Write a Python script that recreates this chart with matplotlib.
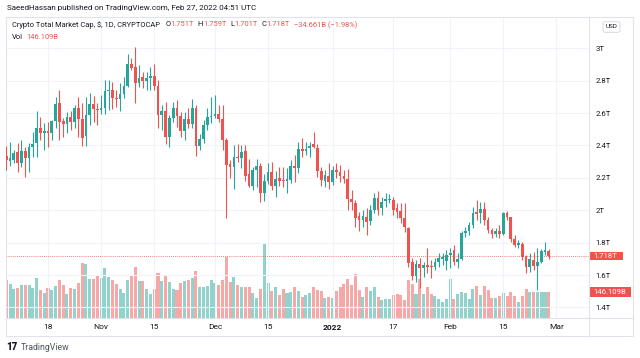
import numpy as np
import pandas as pd
import matplotlib
matplotlib.use("Agg")
import matplotlib.pyplot as plt
import matplotlib.dates as mdates
import matplotlib.transforms as mtransforms
from matplotlib.patches import Rectangle, FancyBboxPatch
from matplotlib.lines import Line2D

plt.rcParams['font.family'] = ['Roboto', 'DejaVu Sans']

# daily candles, values in trillions USD
dates = pd.date_range("2021-10-07", "2022-02-27", freq="D")
opens = [2.335, 2.306, 2.310, 2.362, 2.294, 2.366, 2.325, 2.389, 2.413, 2.510,
         2.479, 2.492, 2.479, 2.551, 2.660, 2.551, 2.531, 2.578, 2.547, 2.634,
         2.564, 2.461, 2.586, 2.656, 2.625, 2.619, 2.634, 2.736, 2.743, 2.695,
         2.687, 2.716, 2.769, 2.901, 2.887, 2.788, 2.825, 2.798, 2.815, 2.829,
         2.767, 2.588, 2.613, 2.455, 2.568, 2.634, 2.582, 2.492, 2.564, 2.531,
         2.634, 2.397, 2.440, 2.527, 2.574, 2.582, 2.592, 2.564, 2.434, 2.286,
         2.265, 2.331, 2.323, 2.366, 2.222, 2.152, 2.249, 2.273, 2.109, 2.181,
         2.238, 2.150, 2.197, 2.190, 2.180, 2.187, 2.273, 2.263, 2.378, 2.368,
         2.383, 2.407, 2.383, 2.245, 2.183, 2.212, 2.177, 2.249, 2.238, 2.212,
         2.193, 2.072, 2.045, 1.965, 1.940, 1.961, 1.934, 2.002, 2.074, 2.016,
         2.057, 2.066, 2.066, 2.012, 1.995, 1.954, 1.889, 1.683, 1.595, 1.669,
         1.642, 1.662, 1.656, 1.648, 1.679, 1.700, 1.687, 1.722, 1.755, 1.681,
         1.701, 1.860, 1.870, 1.911, 1.987, 1.981, 2.008, 1.940, 1.878, 1.854,
         1.872, 1.854, 1.985, 1.957, 1.823, 1.786, 1.792, 1.714, 1.648, 1.693,
         1.656, 1.683, 1.745, 1.751]
highs = [2.397, 2.424, 2.372, 2.417, 2.434, 2.393, 2.413, 2.485, 2.613, 2.574,
         2.541, 2.547, 2.557, 2.701, 2.743, 2.568, 2.609, 2.613, 2.648, 2.701,
         2.660, 2.701, 2.722, 2.706, 2.660, 2.712, 2.804, 2.804, 2.794, 2.743,
         2.784, 2.825, 2.963, 2.938, 3.010, 2.897, 2.856, 2.856, 2.887, 2.901,
         2.804, 2.650, 2.670, 2.588, 2.670, 2.681, 2.609, 2.609, 2.630, 2.685,
         2.650, 2.469, 2.557, 2.630, 2.701, 2.712, 2.647, 2.647, 2.444, 2.310,
         2.403, 2.409, 2.403, 2.403, 2.315, 2.269, 2.317, 2.290, 2.222, 2.290,
         2.296, 2.245, 2.269, 2.269, 2.259, 2.311, 2.341, 2.424, 2.444, 2.424,
         2.424, 2.485, 2.407, 2.269, 2.249, 2.290, 2.273, 2.290, 2.280, 2.249,
         2.255, 2.125, 2.064, 1.991, 2.002, 2.012, 2.033, 2.105, 2.121, 2.084,
         2.105, 2.098, 2.084, 2.043, 2.043, 2.043, 1.899, 1.704, 1.693, 1.704,
         1.683, 1.765, 1.693, 1.704, 1.734, 1.739, 1.755, 1.765, 1.786, 1.734,
         1.872, 1.899, 1.930, 2.022, 2.064, 2.053, 2.053, 1.961, 1.889, 1.889,
         1.909, 1.991, 1.995, 1.961, 1.848, 1.817, 1.806, 1.724, 1.734, 1.745,
         1.765, 1.759, 1.806, 1.759]
lows = [2.249, 2.273, 2.290, 2.239, 2.269, 2.208, 2.239, 2.331, 2.327, 2.434,
        2.372, 2.389, 2.434, 2.506, 2.434, 2.455, 2.475, 2.496, 2.506, 2.455,
        2.397, 2.397, 2.525, 2.547, 2.527, 2.594, 2.594, 2.619, 2.623, 2.640,
        2.615, 2.691, 2.763, 2.866, 2.660, 2.763, 2.753, 2.743, 2.743, 2.743,
        2.506, 2.496, 2.409, 2.389, 2.547, 2.512, 2.455, 2.434, 2.506, 2.506,
        2.335, 2.372, 2.413, 2.496, 2.537, 2.568, 2.547, 2.372, 1.955, 2.197,
        2.129, 2.300, 2.259, 2.183, 2.142, 2.125, 2.146, 2.053, 2.057, 2.162,
        2.125, 2.085, 2.150, 2.146, 2.109, 2.166, 2.177, 2.232, 2.331, 2.341,
        2.331, 2.383, 2.208, 2.150, 2.142, 2.129, 2.156, 2.197, 2.177, 2.166,
        2.002, 2.002, 1.899, 1.874, 1.899, 1.848, 1.909, 1.981, 1.971, 1.971,
        2.022, 2.043, 1.971, 1.950, 1.920, 1.868, 1.652, 1.570, 1.560, 1.518,
        1.591, 1.611, 1.580, 1.632, 1.652, 1.662, 1.632, 1.642, 1.662, 1.642,
        1.693, 1.838, 1.848, 1.889, 1.940, 1.920, 1.909, 1.858, 1.830, 1.838,
        1.827, 1.848, 1.940, 1.806, 1.776, 1.765, 1.693, 1.611, 1.621, 1.632,
        1.508, 1.673, 1.724, 1.701]
closes = [2.310, 2.321, 2.352, 2.294, 2.366, 2.325, 2.393, 2.409, 2.510, 2.479,
          2.492, 2.479, 2.551, 2.654, 2.547, 2.531, 2.578, 2.547, 2.634, 2.564,
          2.448, 2.586, 2.656, 2.623, 2.619, 2.634, 2.736, 2.743, 2.695, 2.687,
          2.716, 2.769, 2.901, 2.880, 2.788, 2.819, 2.798, 2.815, 2.829, 2.767,
          2.588, 2.613, 2.455, 2.568, 2.634, 2.582, 2.492, 2.564, 2.531, 2.634,
          2.397, 2.440, 2.527, 2.578, 2.584, 2.592, 2.564, 2.434, 2.280, 2.265,
          2.327, 2.323, 2.362, 2.214, 2.152, 2.249, 2.273, 2.105, 2.181, 2.238,
          2.150, 2.193, 2.183, 2.180, 2.193, 2.273, 2.263, 2.378, 2.368, 2.378,
          2.397, 2.393, 2.245, 2.187, 2.218, 2.177, 2.249, 2.238, 2.212, 2.193,
          2.068, 2.049, 1.955, 1.940, 1.965, 1.930, 2.002, 2.078, 2.002, 2.053,
          2.068, 2.072, 2.002, 1.991, 1.950, 1.895, 1.673, 1.595, 1.669, 1.642,
          1.662, 1.650, 1.648, 1.679, 1.706, 1.712, 1.724, 1.735, 1.681, 1.701,
          1.862, 1.872, 1.911, 1.981, 1.977, 2.008, 1.940, 1.876, 1.854, 1.872,
          1.854, 1.985, 1.957, 1.823, 1.786, 1.796, 1.714, 1.648, 1.699, 1.656,
          1.683, 1.751, 1.755, 1.718]
# volume, billions USD
volumes = [218, 191, 163, 169, 185, 189, 189, 170, 224, 159,
           143, 170, 157, 180, 218, 185, 139, 169, 167, 196,
           311, 304, 222, 222, 235, 226, 280, 230, 217, 193,
           167, 143, 213, 241, 291, 207, 207, 163, 135, 163,
           252, 207, 237, 204, 167, 157, 196, 207, 215, 228,
           263, 174, 174, 180, 218, 200, 185, 218, 344, 206,
           230, 189, 174, 174, 174, 143, 113, 163, 420, 196,
           152, 174, 130, 167, 143, 146, 174, 152, 119, 130,
           141, 175, 157, 152, 115, 120, 115, 152, 176, 191,
           220, 185, 250, 157, 120, 174, 152, 176, 120, 105,
           107, 107, 130, 135, 133, 102, 218, 194, 139, 222,
           139, 176, 139, 124, 111, 93, 111, 222, 111, 139,
           150, 142, 107, 163, 180, 133, 180, 157, 115, 115,
           128, 142, 126, 148, 126, 93, 126, 167, 146, 146,
           146, 146, 146, 146.109]

tick_dates = ["2021-10-18", "2021-11-01", "2021-11-15", "2021-12-01", "2021-12-15",
              "2022-01-01", "2022-01-17", "2022-02-01", "2022-02-15", "2022-03-01"]
tick_labels = ["18", "Nov", "15", "Dec", "15", "2022", "17", "Feb", "15", "Mar"]
price_ticks = [1.4, 1.6, 1.8, 2.0, 2.2, 2.4, 2.6, 2.8, 3.0]

UP = '#26a69a'
DOWN = '#ef5350'
TXT = '#131722'
BORDER = '#e0e3eb'
W, H = 640, 358


def fx(px):
    return px / W


def fy(py):
    return 1 - py / H


o = np.array(opens)
h = np.array(highs)
l = np.array(lows)
c = np.array(closes)
x = mdates.date2num(dates)
up = c >= o
cols = np.where(up, UP, DOWN)
vcols = np.where(up, '#26a69a80', '#ef535080')

fig = plt.figure(figsize=(6.4, 3.58), dpi=100, facecolor='white')
ax = fig.add_axes([fx(5.5), fy(318.3), fx(589) - fx(5.5), fy(17) - fy(318.3)])
ax2 = ax.twinx()
ax.set_zorder(2)
ax.patch.set_visible(False)
ax2.set_zorder(1)

# volume
ax2.bar(x, volumes, width=0.8, color=vcols, linewidth=0)
ax2.set_ylim(0, 146.109 * 301.3 / 26.0)
ax2.set_yticks([])
for s in ax2.spines.values():
    s.set_visible(False)

# candles
ax.vlines(x, l, h, colors=cols, linewidth=0.8, zorder=3)
ax.bar(x, np.maximum(np.abs(c - o), 0.004), bottom=np.minimum(o, c), width=0.72,
       color=cols, linewidth=0, zorder=4)

ax.set_xlim(x[0] - 0.2, x[0] + 153.6)
ax.set_ylim(1.3333, 3.1932)
ax.axhline(c[-1], color=DOWN, linestyle=(0, (1, 1.5)), linewidth=0.6, zorder=2)

ax.set_xticks(mdates.date2num(pd.to_datetime(tick_dates)))
ax.set_xticklabels(tick_labels)
ax.get_xticklabels()[5].set_fontweight('bold')
ax.yaxis.tick_right()
ax.set_yticks(price_ticks)
ax.set_yticklabels([f"{v:g}T" for v in price_ticks])
ax.tick_params(axis='x', length=0, pad=3.8, labelsize=6, labelcolor=TXT)
ax.tick_params(axis='y', length=0, pad=4.8, labelsize=5.6, labelcolor=TXT)
ax.grid(True, color='#f0f3fa', linewidth=0.8, zorder=0)
ax.set_axisbelow(True)
for s in ax.spines.values():
    s.set_color(BORDER)
    s.set_linewidth(0.8)

# outer frame of the chart
for (x0, y0, x1, y1) in [(589, 17, 633, 17), (633, 17, 633, 336), (5.5, 336, 633, 336),
                         (5.5, 318.3, 5.5, 336), (589, 318.3, 633, 318.3),
                         (589, 318.3, 589, 336)]:
    fig.add_artist(Line2D([fx(x0), fx(x1)], [fy(y0), fy(y1)], color=BORDER,
                          linewidth=0.8, transform=fig.transFigure))

# last price / last volume labels
tr_p = mtransforms.blended_transform_factory(fig.transFigure, ax.transData)
fig.add_artist(Rectangle((fx(589.5), c[-1] - 4.4 / 162), fx(623.3) - fx(589.5), 8.8 / 162,
                         transform=tr_p, facecolor=DOWN, edgecolor='none'))
fig.text(fx(593), c[-1], f"{c[-1]:.3f}T", transform=tr_p, color='white',
         fontsize=5.6, va='center', ha='left')
vpp = 146.109 / 26.0
tr_v = mtransforms.blended_transform_factory(fig.transFigure, ax2.transData)
fig.add_artist(Rectangle((fx(589.5), volumes[-1] - 5 * vpp), fx(630.7) - fx(589.5), 10 * vpp,
                         transform=tr_v, facecolor=DOWN, edgecolor='none'))
fig.text(fx(593), volumes[-1], f"{volumes[-1]:.3f}B", transform=tr_v, color='white',
         fontsize=5.6, va='center', ha='left')

# currency badge
fig.add_artist(FancyBboxPatch((fx(603), fy(32.3)), fx(620) - fx(603), fy(21.7) - fy(32.3),
                              boxstyle="round,pad=0,rounding_size=0.004",
                              transform=fig.transFigure, facecolor='white',
                              edgecolor='#d1d4dc', linewidth=0.6))
fig.text(fx(611.5), fy(27), "USD", fontsize=4.6, color=TXT, ha='center', va='center')

# header and legend
fig.text(fx(7), fy(8.3), "SaeedHassan published on TradingView.com, Feb 27, 2022 04:51 UTC",
         fontsize=5.75, color=TXT, va='center')
fig.text(fx(12.3), fy(25), "Crypto Total Market Cap, $, 1D, CRYPTOCAP",
         fontsize=5.4, color=TXT, va='center')
legend_parts = [(165.7, "O", TXT), (170.5, f"{o[-1]:.3f}T", DOWN),
                (197.7, "H", TXT), (203.5, f"{h[-1]:.3f}T", DOWN),
                (230.7, "L", TXT), (234, f"{l[-1]:.3f}T", DOWN),
                (261.5, "C", TXT), (266, f"{c[-1]:.3f}T", DOWN),
                (294, "\u221234.661B (\u22121.98%)", DOWN)]
for px, s, col in legend_parts:
    fig.text(fx(px), fy(25), s, fontsize=5.4, color=col, va='center')
fig.text(fx(12.3), fy(37.3), "Vol", fontsize=5.4, color=TXT, va='center')
fig.text(fx(26.7), fy(37.3), f"{volumes[-1]:.3f}B", fontsize=5.4, color=DOWN, va='center')

# footer logo
fig.text(fx(6), fy(347), "17", fontsize=7, fontweight='heavy', color=TXT, va='center')
fig.text(fx(20.7), fy(347), "TradingView", fontsize=6.3, color='#50535e', va='center')

fig.savefig("out.png", dpi=100, facecolor='white')
